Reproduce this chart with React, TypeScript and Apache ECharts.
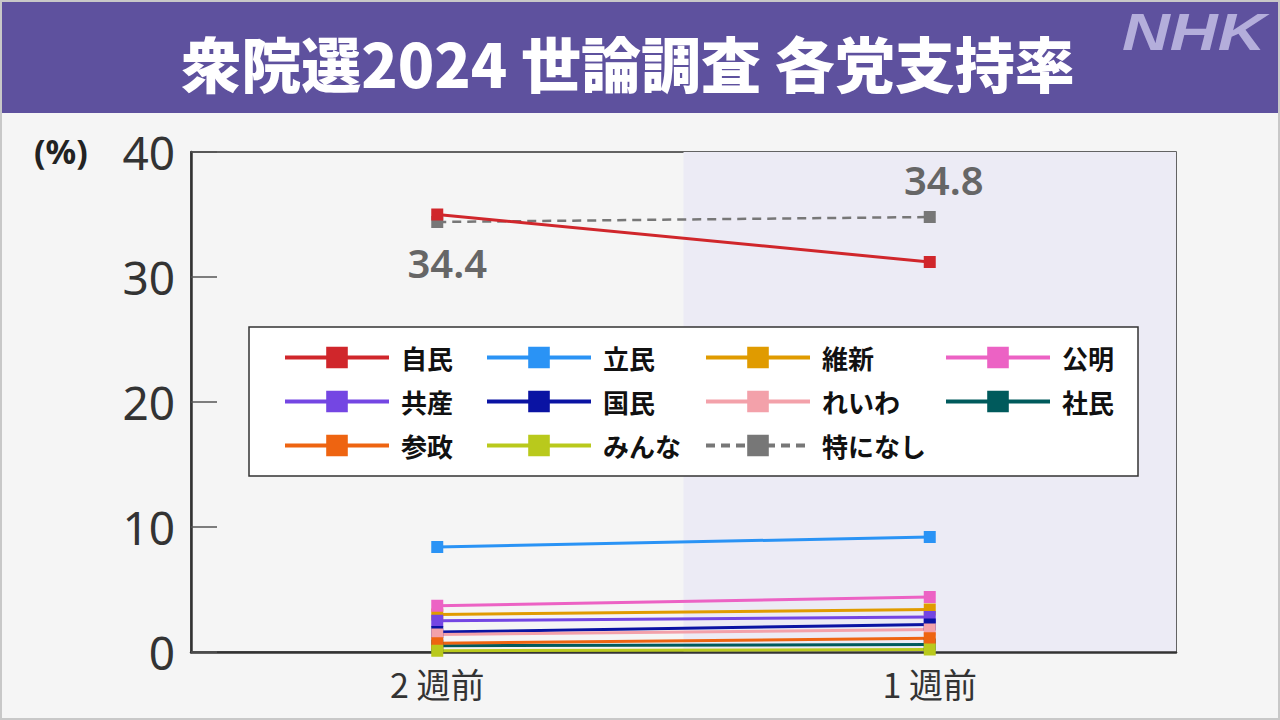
import React, { useEffect, useRef } from "react";
import * as echarts from "echarts";

const categories = ["2 週前", "1 週前"];
const parties = ["自民", "立民", "維新", "公明", "共産", "国民", "れいわ", "社民", "参政", "みんな", "特になし"];
const jimin = [35.0, 31.2];
const rikken = [8.4, 9.2];
const ishin = [3.0, 3.4];
const komei = [3.7, 4.4];
const kyosan = [2.5, 2.8];
const kokumin = [1.6, 2.2];
const reiwa = [1.4, 1.8];
const shamin = [0.5, 0.6];
const sansei = [0.7, 1.1];
const minna = [0.1, 0.2];
const nashi = [34.4, 34.8];
const yTicks = [0, 10, 20, 30, 40];

const colors: Record<string, string> = {
  自民: "#d0262b",
  立民: "#2a93f5",
  維新: "#e09b00",
  公明: "#ec62c4",
  共産: "#7446e3",
  国民: "#0a13a3",
  れいわ: "#f3a1aa",
  社民: "#005a5c",
  参政: "#ee6411",
  みんな: "#b9c91c",
  特になし: "#777777",
};

const values: Record<string, number[]> = {
  自民: jimin,
  立民: rikken,
  維新: ishin,
  公明: komei,
  共産: kyosan,
  国民: kokumin,
  れいわ: reiwa,
  社民: shamin,
  参政: sansei,
  みんな: minna,
  特になし: nashi,
};

const legendColumns = [
  ["自民", "共産", "参政"],
  ["立民", "国民", "みんな"],
  ["維新", "れいわ", "特になし"],
  ["公明", "社民"],
];
const legendLefts = [283, 485, 704, 944];

export default function App() {
  const ref = useRef<HTMLDivElement>(null);
  useEffect(() => {
    if (!ref.current) return;
    const chart = echarts.init(ref.current, undefined, { renderer: "svg" });
    const drawOrder = ["特になし", ...parties.filter((p) => p !== "特になし")];
    const series: any[] = drawOrder.map((name) => {
      const isNashi = name === "特になし";
      return {
        name,
        type: "line",
        data: isNashi
          ? [
              {
                value: values[name][0],
                label: { show: true, position: "bottom", distance: 14, offset: [10, 0] },
              },
              {
                value: values[name][1],
                label: { show: true, position: "top", distance: 12, offset: [14, 0] },
              },
            ]
          : values[name],
        symbol: "rect",
        symbolSize: 12,
        color: colors[name],
        lineStyle: { color: colors[name], width: isNashi ? 2.5 : 3, type: isNashi ? [9, 6] : "solid" },
        itemStyle: { color: colors[name] },
        label: {
          show: false,
          color: "#666",
          fontSize: 40,
          fontFamily: "Noto Sans",
          fontWeight: 600,
        },
        emphasis: { disabled: true },
      };
    });

    const legends = legendColumns.map((col, i) => ({
      data: col,
      orient: "vertical",
      left: legendLefts[i],
      top: 344,
      padding: 0,
      itemGap: 17,
      itemWidth: 104,
      itemHeight: 27,
      selectedMode: false,
      z: 10,
      lineStyle: { width: 4 },
      textStyle: {
        fontSize: 26,
        lineHeight: 27,
        fontWeight: "bold",
        color: "#111",
        fontFamily: "Noto Sans CJK JP",
        padding: [0, 0, 0, 7],
      },
    }));

    chart.setOption({
      animation: false,
      backgroundColor: "#f5f5f5",
      grid: {
        left: 191,
        right: 104,
        top: 152,
        bottom: 68,
        show: true,
        borderColor: "#333",
        borderWidth: 1.5,
        backgroundColor: "transparent",
      },
      legend: legends,
      xAxis: {
        type: "category",
        data: categories,
        boundaryGap: true,
        axisLine: { lineStyle: { color: "#333", width: 2.5 } },
        axisTick: { show: false },
        axisLabel: {
          fontSize: 34,
          color: "#333",
          margin: 14,
          fontFamily: "Noto Sans CJK JP",
        },
        splitLine: { show: false },
        splitArea: { show: true, areaStyle: { color: ["rgba(0,0,0,0)", "#ecebf5"] } },
      },
      yAxis: {
        type: "value",
        min: yTicks[0],
        max: yTicks[yTicks.length - 1],
        interval: 10,
        axisLine: { show: true, lineStyle: { color: "#333", width: 2.5 } },
        axisTick: { show: true, inside: true, length: 26, lineStyle: { color: "#555", width: 1.5 } },
        axisLabel: { fontSize: 46, color: "#333", margin: 16, fontFamily: "Noto Sans" },
        splitLine: { show: false },
      },
      graphic: [
        {
          type: "rect",
          z: 0,
          shape: { x: 0, y: 0, width: 1280, height: 113 },
          style: { fill: "#5e519e" },
        },
        {
          type: "text",
          z: 5,
          x: 628,
          y: 61,
          style: {
            text: "衆院選2024 世論調査 各党支持率",
            fill: "#ffffff",
            fontSize: 60,
            fontWeight: 900,
            fontFamily: "Noto Sans CJK JP",
            textAlign: "center",
            textVerticalAlign: "middle",
            align: "center",
            verticalAlign: "middle",
            shadowColor: "rgba(30,20,60,0.6)",
            shadowOffsetX: 2,
            shadowOffsetY: 2,
            shadowBlur: 2,
          },
        },
        {
          type: "text",
          z: 5,
          x: 1122,
          y: 7,
          scaleX: 1.3,
          style: {
            text: "NHK",
            fill: "#b4aedb",
            fontSize: 51,
            fontWeight: "bold",
            fontStyle: "italic",
            fontFamily: "Liberation Sans",
            textAlign: "left",
            textVerticalAlign: "top",
            align: "left",
            verticalAlign: "top",
          },
        },
        {
          type: "text",
          z: 5,
          x: 34,
          y: 151,
          style: {
            text: "(%)",
            fill: "#222",
            fontSize: 34,
            fontWeight: "bold",
            fontFamily: "Noto Sans",
            textAlign: "left",
            textVerticalAlign: "middle",
            align: "left",
            verticalAlign: "middle",
          },
        },
        {
          type: "rect",
          z: 3,
          shape: { x: 249, y: 327, width: 889, height: 149 },
          style: { fill: "#ffffff", stroke: "#333", lineWidth: 1.5 },
        },
        {
          type: "rect",
          z: 50,
          shape: { x: 1, y: 1, width: 1278, height: 718 },
          style: { fill: "none", stroke: "#c8c8c8", lineWidth: 2 },
        },
      ],
      series,
    });
    return () => chart.dispose();
  }, []);
  return (
    <div
      ref={ref}
      style={{ position: "fixed", left: 0, top: 0, width: 1280, height: 720 }}
    />
  );
}
